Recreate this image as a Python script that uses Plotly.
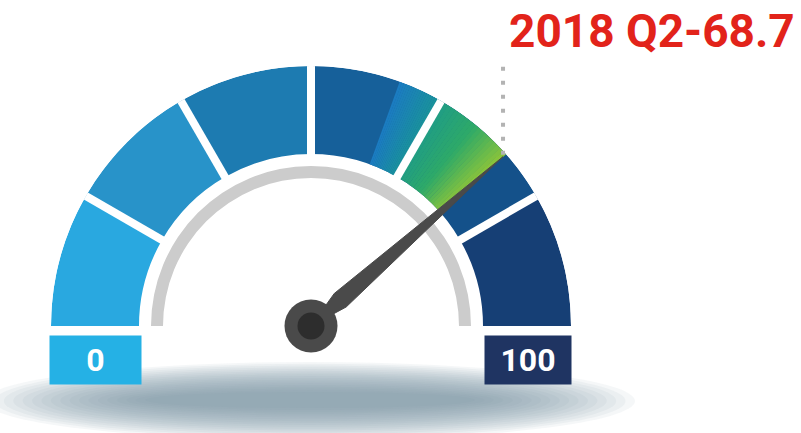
import math
import plotly.graph_objects as go

# gauge scale 0-100 split into six bands
band_edges = [0, 16.67, 33.33, 50, 66.67, 83.33, 100]
band_colors = ["#29a8e0", "#2893c9", "#1d7bb1", "#16609a", "#14518a", "#163f75"]
needle_value = 77            # where the needle is drawn on the 0-100 scale
label_text = "2018 Q2-68.7"
scale_labels = ["0", "100"]
# gradient overlays: (from, to, colour stops)
glow_ranges = [(61.1, 66.67, ["#1b7bc2", "#1a9597"]),
               (66.67, needle_value, ["#1f9c86", "#2eaa68", "#8cc43a"])]

W, H = 801, 433
cx, cy, R = 311, 326, 260
r_in = 172
font_narrow = "Roboto, Liberation Sans, sans-serif"


def px(x):
    return x / W


def py(y):
    return 1 - y / H


def deg(v):
    return v * 1.8


def mix(c1, c2, t):
    a = [int(c1[i:i + 2], 16) for i in (1, 3, 5)]
    b = [int(c2[i:i + 2], 16) for i in (1, 3, 5)]
    return "#%02x%02x%02x" % tuple(round(a[k] + (b[k] - a[k]) * t) for k in range(3))


def ramp(stops, t):
    seg = min(int(t * (len(stops) - 1)), len(stops) - 2)
    local = t * (len(stops) - 1) - seg
    return mix(stops[seg], stops[seg + 1], local)


fig = go.Figure()

# grey inner ring
fig.add_trace(go.Barpolar(theta=[90], width=[180], base=148, r=[12],
                          marker=dict(color="#cccccc", line_width=0)))

# coloured bands
mids = [deg((a + b) / 2) for a, b in zip(band_edges[:-1], band_edges[1:])]
widths = [deg(b - a) for a, b in zip(band_edges[:-1], band_edges[1:])]
fig.add_trace(go.Barpolar(theta=mids, width=widths, base=r_in, r=[R - r_in] * 6,
                          marker=dict(color=band_colors, line_width=0)))

# gradient parts (thin slices)
for lo, hi, stops in glow_ranges:
    n = 20
    step = (hi - lo) / n
    th = [deg(lo + step * (i + 0.5)) for i in range(n)]
    cols = [ramp(stops, (i + 0.5) / n) for i in range(n)]
    fig.add_trace(go.Barpolar(theta=th, width=[deg(step) * 1.1] * n, base=r_in,
                              r=[R - r_in] * n, marker=dict(color=cols, line_width=0)))

# white gaps between bands
for e in band_edges[1:-1]:
    fig.add_trace(go.Scatterpolar(r=[r_in - 6, R + 6], theta=[deg(e)] * 2, mode="lines",
                                  line=dict(color="white", width=8)))

# needle
t = deg(needle_value)
fig.add_trace(go.Scatterpolar(r=[0, 40, 256, 40, 0], theta=[t, t - 13, t, t + 13, t],
                              mode="lines", fill="toself", fillcolor="#4a4a4a",
                              line=dict(color="#4a4a4a", width=1)))

# pivot
fig.add_trace(go.Scatterpolar(r=[0, 0], theta=[0, 0], mode="markers", cliponaxis=False,
                              marker=dict(size=[53, 27], color=["#4a4a4a", "#2d2d2d"],
                                          opacity=1, line_width=0)))

# soft shadow under the gauge
n_sh = 18
for i in range(n_sh):
    k = i / (n_sh - 1)
    fig.add_shape(type="circle", xref="paper", yref="paper", layer="below",
                  x0=px(-15 + 160 * k), x1=px(635 - 160 * k),
                  y0=py(440 - 32 * k), y1=py(362 + 30 * k),
                  fillcolor="#7f8d9b", opacity=0.075, line_width=0)

# dotted leader line from the needle tip
ang = math.radians(180 - t)
tip_x, tip_y = cx + 256 * math.cos(ang), cy - 256 * math.sin(ang)
fig.add_shape(type="line", xref="paper", yref="paper",
              x0=px(tip_x), x1=px(tip_x), y0=py(tip_y - 2), y1=py(58),
              line=dict(color="#b3b3b3", width=4, dash="4px,10px"))

fig.add_annotation(text="<b>%s</b>" % label_text, xref="paper", yref="paper",
                   x=px(797), y=py(31), xanchor="right", yanchor="middle", showarrow=False,
                   font=dict(family=font_narrow, size=46, color="#e2231a"))

# end labels in boxes
for txt, x0, x1, bg in [(scale_labels[0], 50, 141, "#25b1e5"),
                         (scale_labels[1], 485, 571, "#1f3462")]:
    fig.add_annotation(text="<b>%s</b>" % txt, xref="paper", yref="paper",
                       x=px((x0 + x1) / 2), y=py(360), xanchor="center", yanchor="middle",
                       showarrow=False, width=x1 - x0, height=48, bgcolor=bg, borderpad=0,
                       font=dict(family=font_narrow, size=32, color="white"))

fig.update_layout(
    width=W, height=H, showlegend=False,
    margin=dict(l=0, r=0, t=0, b=0),
    paper_bgcolor="white", plot_bgcolor="white",
    polar=dict(
        domain=dict(x=[px(cx - R), px(cx + R)], y=[py(cy), py(cy - R)]),
        sector=[0, 180], bgcolor="white", hole=0,
        radialaxis=dict(visible=False, range=[0, R]),
        angularaxis=dict(visible=False, direction="clockwise", rotation=180,
                         thetaunit="degrees"),
    ),
    bargap=0,
)

fig.write_html("out.html", config={"displayModeBar": False},
               post_script="document.body.style.margin='0';")
